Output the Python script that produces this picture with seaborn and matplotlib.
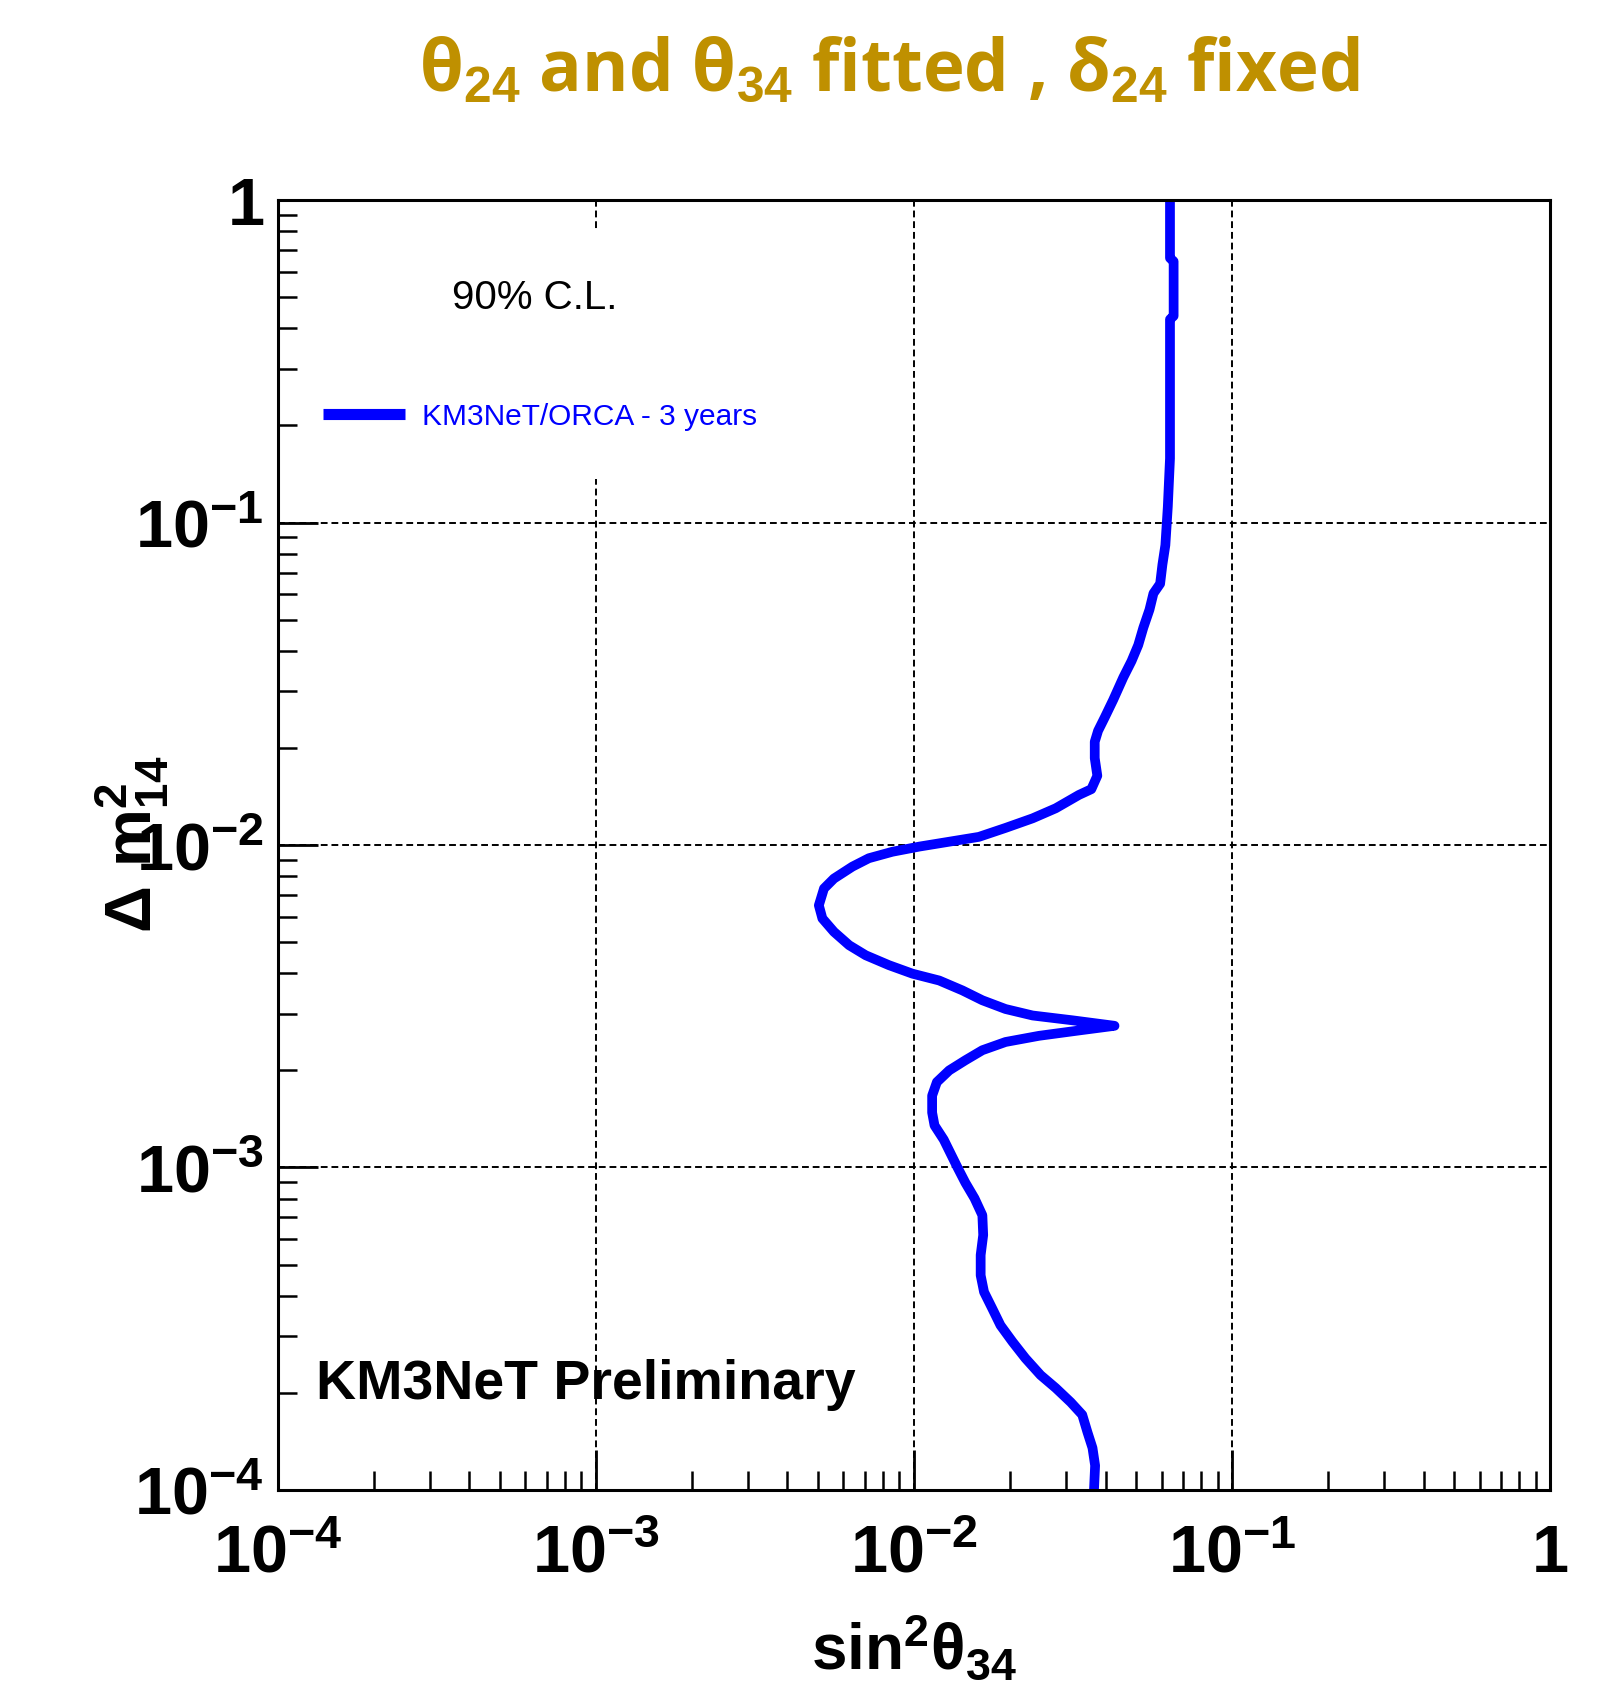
import numpy as np
import pandas as pd
import matplotlib
matplotlib.use('Agg')
import matplotlib.pyplot as plt
import matplotlib.ticker as mticker
from matplotlib.patches import Rectangle
import seaborn as sns

# 90% C.L. contour (top to bottom)
sin2_theta34 = [
    0.0638, 0.0638, 0.0655, 0.0655, 0.0638, 0.0638, 0.0628, 0.0617, 0.0604, 0.0594,
    0.0566, 0.0550, 0.0526, 0.0507, 0.0483, 0.0455, 0.0423, 0.0398, 0.0379, 0.0370,
    0.0370, 0.0377, 0.0361, 0.0330, 0.0279, 0.0236, 0.0194, 0.0160, 0.0126, 0.0104,
    0.00855, 0.00721, 0.00640, 0.00560, 0.00521, 0.00502, 0.00515, 0.00560, 0.00625, 0.00705,
    0.00834, 0.00989, 0.0120, 0.0142, 0.0164, 0.0194, 0.0236, 0.0315, 0.0427, 0.0330,
    0.0247, 0.0194, 0.0164, 0.0145, 0.0129, 0.0118, 0.0114, 0.0114, 0.0116, 0.0124,
    0.0130, 0.0137, 0.0145, 0.0155, 0.0164, 0.0165, 0.0162, 0.0162, 0.0166, 0.0176,
    0.0187, 0.0204, 0.0224, 0.0250, 0.0279, 0.0311, 0.0338, 0.0351, 0.0364, 0.0371,
    0.0368,
]
dm2_14 = [
    1.0, 0.661, 0.646, 0.437, 0.427, 0.158, 0.112, 0.0851, 0.0741, 0.0646,
    0.0603, 0.0537, 0.0472, 0.0417, 0.0372, 0.0331, 0.0282, 0.0249, 0.0226, 0.0209,
    0.0186, 0.0164, 0.0149, 0.0143, 0.0130, 0.0121, 0.0113, 0.0106, 0.0102, 0.00989,
    0.00953, 0.00910, 0.00857, 0.00787, 0.00733, 0.00650, 0.00592, 0.00538, 0.00489, 0.00455,
    0.00424, 0.00399, 0.00380, 0.00354, 0.00330, 0.00310, 0.00296, 0.00286, 0.00275, 0.00266,
    0.00256, 0.00245, 0.00231, 0.00215, 0.00200, 0.00184, 0.00167, 0.00148, 0.00135, 0.00122,
    0.00111, 0.00100, 0.000897, 0.000802, 0.000711, 0.000617, 0.000535, 0.000463, 0.000411, 0.000366,
    0.000324, 0.000288, 0.000256, 0.000227, 0.000207, 0.000187, 0.000171, 0.000151, 0.000135, 0.000119,
    0.0001,
]

decade_ticks = [1e-4, 1e-3, 1e-2, 1e-1, 1]
decade_labels = [r'$10^{-4}$', r'$10^{-3}$', r'$10^{-2}$', r'$10^{-1}$', r'$1$']

title_text = 'θ$_{24}$ and θ$_{34}$ fitted , δ$_{24}$ fixed'
series_label = 'KM3NeT/ORCA - 3 years'
cl_text = '90% C.L.'
prelim_text = 'KM3NeT Preliminary'

sns.set_style('white')
plt.rcParams['font.family'] = ['Liberation Sans', 'DejaVu Sans']
plt.rcParams['mathtext.fontset'] = 'custom'
plt.rcParams['mathtext.rm'] = 'Liberation Sans:bold'
plt.rcParams['mathtext.it'] = 'Liberation Sans:bold'
plt.rcParams['mathtext.bf'] = 'Liberation Sans:bold'
plt.rcParams['mathtext.default'] = 'rm'
plt.rcParams['text.color'] = 'black'
plt.rcParams['axes.labelcolor'] = 'black'
plt.rcParams['xtick.color'] = 'black'
plt.rcParams['ytick.color'] = 'black'

df = pd.DataFrame({'sin2': sin2_theta34, 'dm2': dm2_14})

fig = plt.figure(figsize=(16.03, 16.90), dpi=100)
ax = fig.add_axes([0.1734, 0.1178, 0.7936, 0.7632])

sns.lineplot(data=df, x='sin2', y='dm2', sort=False, estimator=None,
             color='blue', linewidth=7, ax=ax, label=series_label, zorder=3)
ax.lines[0].set_solid_capstyle('butt')
ax.lines[0].set_solid_joinstyle('round')

ax.set_xscale('log')
ax.set_yscale('log')
ax.set_xlim(1e-4, 1)
ax.set_ylim(1e-4, 1)
ax.set_xlabel('')
ax.set_ylabel('')

ax.set_xticks(decade_ticks)
ax.set_xticklabels(decade_labels)
ax.set_yticks(decade_ticks)
ax.set_yticklabels(decade_labels)
ax.xaxis.set_minor_locator(mticker.LogLocator(base=10, subs=np.arange(2, 10), numticks=20))
ax.yaxis.set_minor_locator(mticker.LogLocator(base=10, subs=np.arange(2, 10), numticks=20))
ax.xaxis.set_minor_formatter(mticker.NullFormatter())
ax.yaxis.set_minor_formatter(mticker.NullFormatter())

ax.tick_params(which='both', bottom=True, left=True, top=False, right=False,
               direction='in', colors='black')
ax.tick_params(which='major', length=29, width=2.0, labelsize=48)
ax.tick_params(axis='x', which='major', pad=24)
ax.tick_params(axis='y', which='major', pad=10)
ax.tick_params(which='minor', length=14, width=1.8)

ax.grid(which='major', color='black', linestyle=(0, (3.5, 2)), linewidth=1.4)
ax.set_axisbelow(True)
for sp in ax.spines.values():
    sp.set_linewidth(2.2)
    sp.set_color('black')
    sp.set_zorder(4)

# white legend panel hides the grid behind it
ax.add_patch(Rectangle((0.033, 0.784), 0.346, 0.192, transform=ax.transAxes,
                       facecolor='white', edgecolor='none', zorder=1))

ax.text(0.202, 0.925, cl_text, transform=ax.transAxes, ha='center', va='center',
        fontsize=29, color='black', zorder=5)

leg = ax.legend(loc='center left', bbox_to_anchor=(0.0354, 0.8326), frameon=False,
                borderpad=0, borderaxespad=0, handlelength=2.75, handletextpad=0.55,
                prop={'size': 21.5}, labelcolor='blue')
for h in leg.get_lines():
    h.set_linewidth(8)

ax.text(0.030, 0.071, prelim_text, transform=ax.transAxes, ha='left', va='baseline',
        fontsize=40, fontweight='bold', color='black', zorder=5)

# axis titles
fig.text(0.0823, 0.5006, r'$\Delta\ \mathrm{m}^{2}_{14}$', rotation=90,
         ha='center', va='center', fontsize=47, color='black')
fig.text(0.5702, 0.0118, r'$\mathrm{sin}^{2}\theta_{34}$', ha='center', va='baseline',
         fontsize=46, color='black')

# page title
fig.text(0.5546, 0.946, title_text, ha='center', va='baseline', fontsize=51,
         color='#BF9000', family=['Open Sans', 'Noto Sans'], fontweight='bold')

fig.savefig('out.png', dpi=100)
